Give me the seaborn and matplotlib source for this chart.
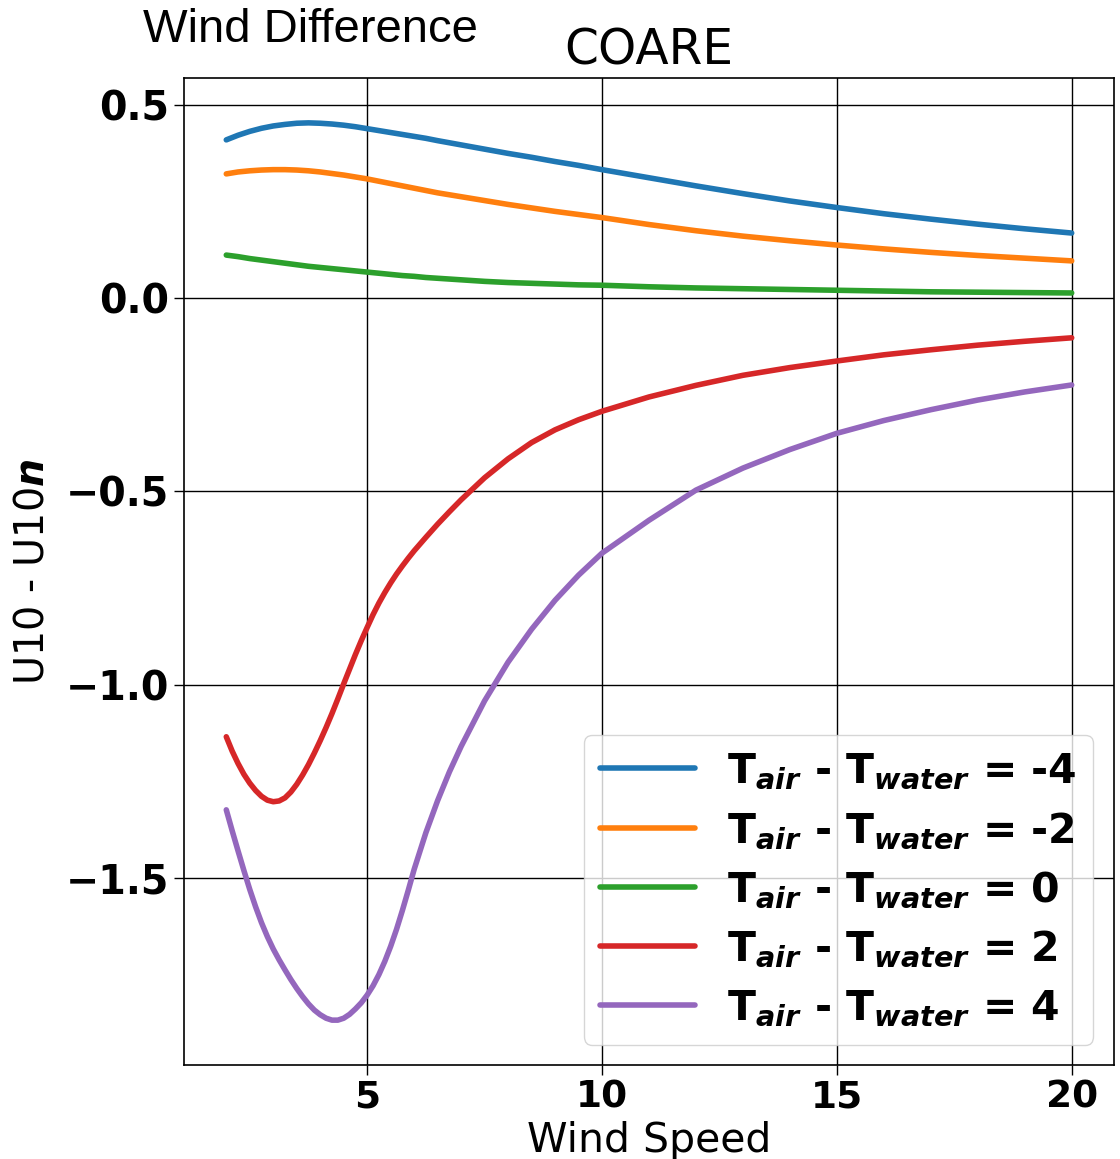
import matplotlib
matplotlib.use("Agg")
import matplotlib.pyplot as plt
import seaborn as sns
import pandas as pd

# wind speed grid for the stable / neutral cases (T_air - T_water = -4, -2, 0)
ws_coarse = [2, 2.25, 2.5, 2.75, 3, 3.25, 3.5, 3.75, 4, 4.25, 4.5, 4.75, 5, 5.25,
             5.5, 5.75, 6, 6.25, 6.5, 7, 7.5, 8, 8.5, 9, 9.5, 10, 11, 12, 13, 14,
             15, 16, 17, 18, 19, 20]
# finer wind speed grid for the cases with a sharp minimum (T_air - T_water = 2, 4)
ws_fine = [2, 2.125, 2.25, 2.375, 2.5, 2.625, 2.75, 2.875, 3, 3.125, 3.25, 3.375,
           3.5, 3.625, 3.75, 3.875, 4, 4.125, 4.25, 4.375, 4.5, 4.625, 4.75, 4.875,
           5, 5.125, 5.25, 5.375, 5.5, 5.625, 5.75, 5.875, 6, 6.25, 6.5, 6.75, 7,
           7.5, 8, 8.5, 9, 9.5, 10, 11, 12, 13, 14, 15, 16, 17, 18, 19, 20]

diff_m4 = [0.409, 0.421, 0.431, 0.439, 0.445, 0.449, 0.452, 0.453, 0.452, 0.450,
           0.447, 0.443, 0.438, 0.433, 0.428, 0.423, 0.418, 0.413, 0.407, 0.396,
           0.385, 0.374, 0.364, 0.353, 0.343, 0.332, 0.311, 0.290, 0.270, 0.251,
           0.234, 0.218, 0.204, 0.191, 0.179, 0.168]
diff_m2 = [0.321, 0.326, 0.329, 0.331, 0.332, 0.332, 0.331, 0.329, 0.326, 0.322,
           0.318, 0.313, 0.308, 0.302, 0.296, 0.290, 0.284, 0.278, 0.272, 0.262,
           0.252, 0.242, 0.233, 0.224, 0.216, 0.208, 0.190, 0.174, 0.160, 0.148,
           0.137, 0.127, 0.118, 0.110, 0.103, 0.096]
diff_0 = [0.111, 0.107, 0.102, 0.098, 0.094, 0.090, 0.086, 0.082, 0.079, 0.076,
          0.073, 0.070, 0.067, 0.064, 0.061, 0.058, 0.056, 0.053, 0.051, 0.047,
          0.043, 0.040, 0.038, 0.036, 0.034, 0.033, 0.029, 0.026, 0.024, 0.022,
          0.020, 0.018, 0.016, 0.015, 0.014, 0.013]
diff_p2 = [-1.135, -1.172, -1.204, -1.232, -1.255, -1.274, -1.289, -1.299, -1.303,
           -1.301, -1.293, -1.278, -1.258, -1.234, -1.207, -1.177, -1.145, -1.111,
           -1.075, -1.037, -0.998, -0.960, -0.922, -0.886, -0.852, -0.819, -0.789,
           -0.762, -0.737, -0.714, -0.693, -0.673, -0.654, -0.619, -0.585, -0.553,
           -0.522, -0.465, -0.416, -0.374, -0.341, -0.315, -0.293, -0.256, -0.226,
           -0.200, -0.180, -0.163, -0.147, -0.134, -0.122, -0.112, -0.103]
diff_p4 = [-1.324, -1.378, -1.430, -1.481, -1.530, -1.575, -1.616, -1.652, -1.684,
           -1.712, -1.738, -1.763, -1.786, -1.807, -1.826, -1.842, -1.854, -1.863,
           -1.868, -1.868, -1.863, -1.853, -1.839, -1.823, -1.803, -1.779, -1.750,
           -1.716, -1.677, -1.633, -1.584, -1.532, -1.478, -1.383, -1.300, -1.226,
           -1.160, -1.042, -0.942, -0.857, -0.782, -0.717, -0.660, -0.575, -0.497,
           -0.440, -0.392, -0.350, -0.317, -0.289, -0.264, -0.243, -0.225]

delta_t = ["-4", "-2", "0", "2", "4"]
series = [(ws_coarse, diff_m4), (ws_coarse, diff_m2), (ws_coarse, diff_0),
          (ws_fine, diff_p2), (ws_fine, diff_p4)]
labels = [r"$\mathbf{T}_{\mathbfit{air}}$ - $\mathbf{T}_{\mathbfit{water}}$ = " + d
          for d in delta_t]

rows = []
for lab, (xs, vals) in zip(labels, series):
    for x, y in zip(xs, vals):
        rows.append({"Wind Speed": x, "diff": y, "case": lab})
df = pd.DataFrame(rows)

sns.set_style("whitegrid", {"grid.color": "black", "axes.edgecolor": "black",
                            "xtick.bottom": True, "ytick.left": True,
                            "text.color": "black", "axes.labelcolor": "black",
                            "xtick.color": "black", "ytick.color": "black"})
plt.rcParams["font.family"] = ["DejaVu Sans"]
plt.rcParams["mathtext.fontset"] = "dejavusans"

fig = plt.figure(figsize=(11.2, 11.59), dpi=100)
ax = fig.add_axes([0.1643, 0.0811, 0.8303, 0.8516])

palette = ["#1f77b4", "#ff7f0e", "#2ca02c", "#d62728", "#9467bd"]
sns.lineplot(data=df, x="Wind Speed", y="diff", hue="case", hue_order=labels,
             palette=palette, linewidth=4, ax=ax, sort=False)

ax.grid(True, color="black", linewidth=1.0)
ax.set_xticks([5, 10, 15, 20])
ax.set_yticks([-1.5, -1.0, -0.5, 0.0, 0.5])
ax.tick_params(axis="both", length=7, width=1, color="black", labelcolor="black")
ax.tick_params(axis="x", labelsize=27)
ax.tick_params(axis="y", labelsize=28.5)
for t in ax.get_xticklabels() + ax.get_yticklabels():
    t.set_fontweight("bold")
for s in ax.spines.values():
    s.set_color("black")
    s.set_linewidth(1.2)

ax.set_xlabel("Wind Speed", fontsize=29.5, labelpad=4, color="black")
ax.set_ylabel(r"U10 - U10$\mathbfit{n}$", fontsize=28.5, labelpad=10, color="black")
ax.set_title("COARE", fontsize=35, pad=10, color="black")

leg = ax.legend(loc="lower right", prop={"weight": "bold", "size": 29.5},
                handlelength=2.3, labelspacing=0.45, title=None)
for line in leg.get_lines():
    line.set_linewidth(4)
for t in leg.get_texts():
    t.set_color("black")

fig.text(0.128, 0.974, "Wind Difference", fontsize=34, family="Liberation Sans",
         va="center", ha="left", color="black")

fig.savefig("out.png", dpi=100)
